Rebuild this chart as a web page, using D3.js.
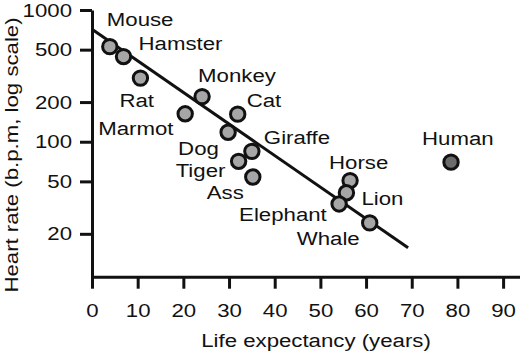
<!DOCTYPE html>
<html>
<head>
<meta charset="utf-8">
<script src="https://cdn.jsdelivr.net/npm/d3@7"></script>
<style>
  body { margin: 0; background: #fff; }
  svg { display: block; }
  text { font-family: "Liberation Sans", Arial, sans-serif; fill: #111; }
</style>
</head>
<body>
<svg id="chart" width="520" height="353"></svg>
<script>
// animals: life expectancy (years) vs heart rate (b.p.m.)
var animals = ["Mouse", "Hamster", "Rat", "Marmot", "Monkey", "Cat", "Dog", "Tiger", "Giraffe", "Ass", "Horse", "Lion", "Elephant", "Whale", "Human"];
var lifeYears = [3.9, 6.9, 10.6, 20.4, 24.1, 31.9, 29.8, 32.1, 35, 35.2, 56.5, 55.7, 54.1, 60.8, 78.6];
var heartRate = [527, 443, 304, 163, 220, 162, 118, 71, 84.5, 54, 50.7, 41, 33.7, 24.2, 70];
// label offsets from each point, px (start x, baseline)
var labelDx = [-3, 15, -21, -87, -4, 9, -50, -63, 12, -46, -21, 15, -100, -73, -29];
var labelDy = [-21, -7, 29, 21, -15, -7, 23, 16, -7, 22, -12, 12, 17, 22, -17];

var xTicks = [0, 10, 20, 30, 40, 50, 60, 70, 80, 90];
var yTicks = [20, 50, 100, 200, 500, 1000];
// regression line end points
var fitX = [0, 69.2];
var fitY = [713, 15.7];

var fontSize = 19, stretch = 1.17;   // the source type is wide

var svg = d3.select("#chart");

var x = d3.scaleLinear().domain([0, 93.7]).range([92, 520]);
var y = d3.scaleLog().domain([9.45, 1000]).range([276.7, 10]);

var xAxis = svg.append("g")
    .attr("transform", "translate(0,276.7)")
    .call(d3.axisBottom(x).tickValues(xTicks).tickSize(12).tickPadding(15).tickSizeOuter(0));

var yAxis = svg.append("g")
    .attr("transform", "translate(92,0)")
    .call(d3.axisLeft(y).tickValues(yTicks).tickFormat(d3.format("d")).tickSize(12).tickPadding(8).tickSizeOuter(0));

[xAxis, yAxis].forEach(function(a){
    a.selectAll("path, line").attr("stroke", "#111").attr("stroke-width", 3);
    a.selectAll("text")
        .style("font-family", "Liberation Sans, Arial, sans-serif")
        .style("font-size", fontSize + "px")
        .attr("fill", "#111")
        .attr("transform", "scale(" + stretch + ",1)");
});
yAxis.selectAll("text").attr("x", -20 / stretch);

// fit line
svg.append("line")
    .attr("x1", x(fitX[0])).attr("y1", y(fitY[0]))
    .attr("x2", x(fitX[1])).attr("y2", y(fitY[1]))
    .attr("stroke", "#111")
    .attr("stroke-width", 3);

var pts = animals.map(function(name, i){
    return {name: name, life: lifeYears[i], hr: heartRate[i], dx: labelDx[i], dy: labelDy[i]};
});

svg.append("g").selectAll("circle")
    .data(pts)
    .enter()
    .append("circle")
    .attr("cx", function(d){ return x(d.life); })
    .attr("cy", function(d){ return y(d.hr); })
    .attr("r", 7.2)
    .attr("fill", function(d){ return d.name === "Human" ? "#6b6b6b" : "#a6a6a6"; })
    .attr("stroke", "#111")
    .attr("stroke-width", 3);

svg.append("g").selectAll("text")
    .data(pts)
    .enter()
    .append("text")
    .attr("transform", function(d){
        return "translate(" + (x(d.life) + d.dx) + "," + (y(d.hr) + d.dy) + ") scale(" + stretch + ",1)";
    })
    .style("font-size", fontSize + "px")
    .text(function(d){ return d.name; });

svg.append("text")
    .attr("transform", "translate(316,346.5) scale(" + stretch + ",1)")
    .attr("text-anchor", "middle")
    .style("font-size", fontSize + "px")
    .text("Life expectancy (years)");

svg.append("text")
    .attr("transform", "translate(17.5,155) rotate(-90) scale(" + stretch + ",1)")
    .attr("text-anchor", "middle")
    .style("font-size", fontSize + "px")
    .text("Heart rate (b.p.m, log scale)");
</script>
</body>
</html>
